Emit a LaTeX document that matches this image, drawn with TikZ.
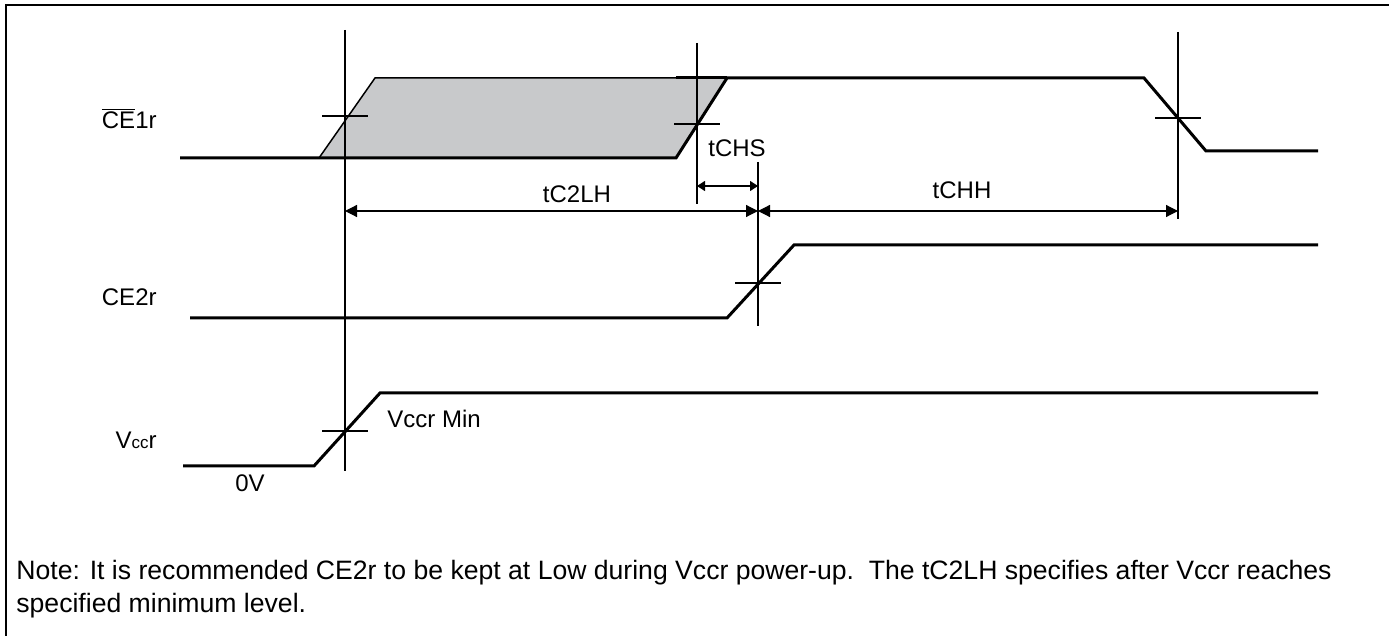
\documentclass[tikz,border=0pt]{standalone}
\usepackage{fontspec}
\setmainfont{Liberation Sans}
\usetikzlibrary{positioning,arrows.meta}

\definecolor{dontcare}{RGB}{200,201,203}

\tikzset{
  wave/.style={line width=1.5pt, line join=miter},
  guide/.style={line width=0.6pt},
  dimline/.style={line width=0.6pt, {Triangle[length=6pt,width=6pt]}-{Triangle[length=6pt,width=6pt]}},
  shortdim/.style={line width=0.6pt, {Triangle[length=4pt,width=5pt]}-{Triangle[length=4pt,width=5pt]}},
  signame/.style={font=\fontsize{12}{14}\selectfont, inner sep=0pt, anchor=base east},
  timename/.style={font=\fontsize{12}{14}\selectfont, inner sep=0pt, anchor=base},
  notetext/.style={font=\fontsize{13.3}{15}\selectfont, inner sep=0pt, anchor=base west},
}

\begin{document}
\begin{tikzpicture}[x=0.5pt,y=-0.5pt]
	\useasboundingbox (0,0) rectangle (1389,636);
	\draw[line width=1pt] (6,640) -- (6,5) -- (1395,5);

	% signal names
	\node [signame] (ce1) at (157,129) {$\overline{\mbox{CE}}$1r};
	\node [signame] (ce2) at (157,306) {CE2r};
	\node [signame] (vcc) at (157,449) {V{\fontsize{8.5}{9}\selectfont cc}r};

	% don't-care window of CE1r
	\draw[line width=0.75pt, fill=dontcare] (319,158) -- (375,78) -- (727,78) -- (676,158) -- cycle;

	% reference lines
	\coordinate (t0top) at (345,30);   \coordinate (t0bot) at (345,471);
	\coordinate (t1top) at (697,43);   \coordinate (t1bot) at (697,204);
	\coordinate (t2top) at (758,162);  \coordinate (t2bot) at (758,326);
	\coordinate (t3top) at (1178,32);  \coordinate (t3bot) at (1178,219);
	\draw[guide] (t0top) -- (t0bot);
	\draw[guide] (t1top) -- (t1bot);
	\draw[guide] (t2top) -- (t2bot);
	\draw[guide] (t3top) -- (t3bot);
	\foreach \x/\y in {345/116, 697/124, 1178/118, 758/283, 345/431}
		\draw[guide] (\x-23,\y) -- (\x+23,\y);

	% CE1r
	\draw[wave] (180,158) -- (676,158) -- (727,78) -- (1144,78) -- (1206,151) -- (1318,151);
	\draw[wave] (676,78) -- (727,78);

	% CE2r
	\draw[wave] (190,318) -- (727,318) -- (794,245) -- (1318,245);

	% Vccr
	\draw[wave] (183,466) -- (314,466) -- (380,393) -- (1318,393);
	\node [timename, anchor=base west] (vmin) at (387,428) {Vccr Min};
	\node [timename, anchor=base west] (zero) at (235,492) {0V};

	% timings
	\coordinate (a0) at (345,211);
	\coordinate (a2) at (758,211);
	\coordinate (a3) at (1178,211);
	\coordinate (s1) at (697,186);
	\coordinate (s2) at (758,186);
	\draw[dimline] (a0) -- (a2);
	\draw[dimline] (a2) -- (a3);
	\draw[shortdim] (s1) -- (s2);
	\node [timename] (c2lh) at (577,203) {tC2LH};
	\node [timename] (chh) at (962,199) {tCHH};
	\node [timename] (chs) at (737,157) {tCHS};

	% note
	\node [notetext] (note1) at (16,580) {Note: It is recommended CE2r to be kept at Low during Vccr power-up.\ \ The tC2LH specifies after Vccr reaches};
	\node [notetext] (note2) at (16,612) {specified minimum level.};
\end{tikzpicture}
\end{document}
